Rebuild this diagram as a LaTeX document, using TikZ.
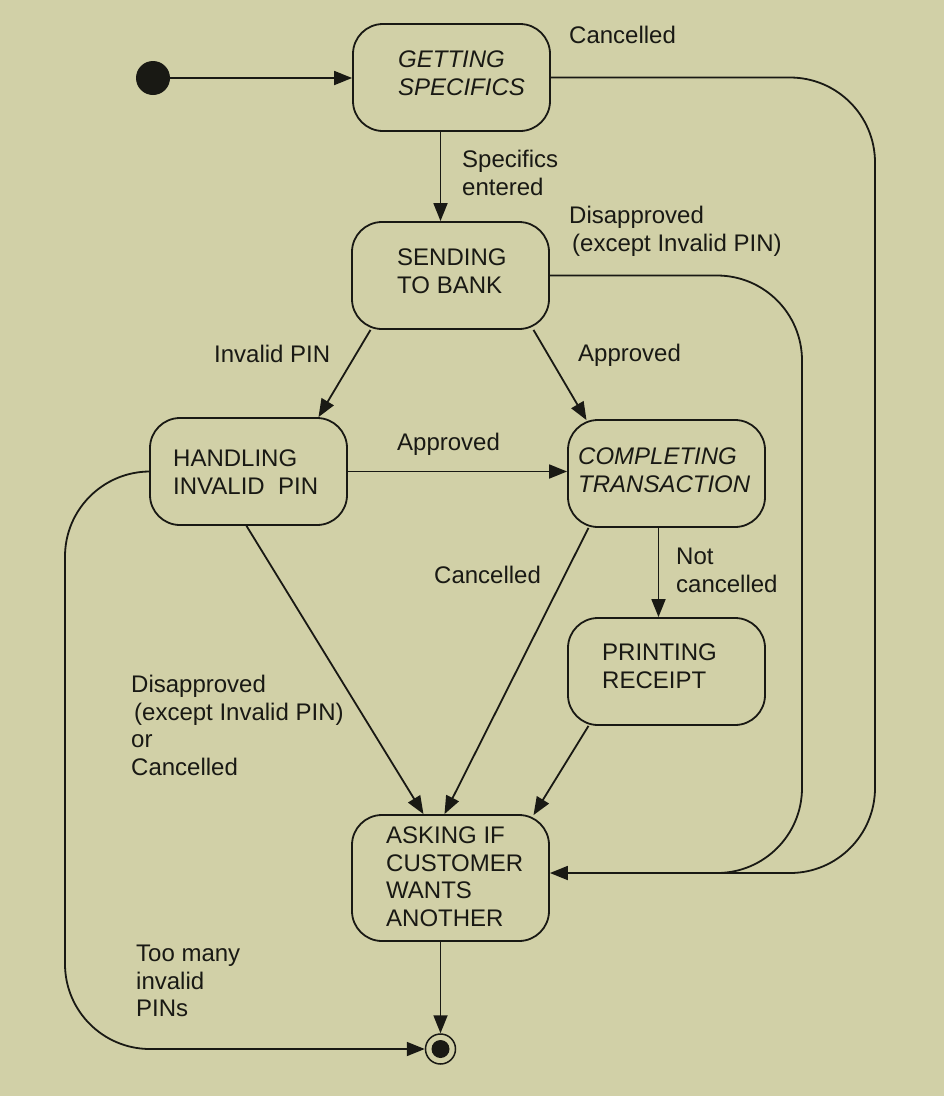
\documentclass[tikz,border=0pt]{standalone}
\usepackage{fontspec}
\setmainfont{Liberation Sans}
\usetikzlibrary{arrows.meta,calc}
\definecolor{bg}{RGB}{209,208,167}
\definecolor{ink}{RGB}{25,25,20}
\begin{document}
\begin{tikzpicture}[x=1pt,y=-1pt,
  state/.style={draw=ink, line width=1.8pt, rounded corners=30pt, minimum width=197pt, minimum height=107pt, inner sep=0pt},
  lbl/.style={anchor=north west, inner sep=0pt, align=left, font=\fontsize{24}{27.5}\selectfont, text=ink},
  conn/.style={draw=ink, line width=1.8pt},
  arr/.style={conn, -{Triangle[length=18pt,width=14pt]}},
  looparr/.style={arr, rounded corners=85pt},
  loopline/.style={conn, rounded corners=85pt}]
\fill[bg] (0,0) rectangle (944,1096);
\useasboundingbox (0,0) rectangle (944,1096);

% states
\node[state] (gs) at (451.5,77.5) {};
\node[state] (sb) at (450.5,275.5) {};
\node[state] (hp) at (248.5,471.5) {};
\node[state] (ct) at (666.5,473.5) {};
\node[state] (pr) at (666.5,671.5) {};
\node[state, minimum height=126pt] (ak) at (450.5,878) {};
\node[fill=ink, circle, minimum size=34pt, inner sep=0pt] (init) at (153,78) {};
\node[draw=ink, circle, line width=1.5pt, minimum size=30pt, inner sep=0pt,
      path picture={\fill[ink] (path picture bounding box.center) circle (9pt);}] (fin) at (440.5,1049) {};

% state texts
\node[lbl, font=\fontsize{24}{27.5}\selectfont\itshape] (gst) at (398,51) {GETTING\\SPECIFICS};
\node[lbl] (sbt) at (397,249) {SENDING\\TO BANK};
\node[lbl] (hpt) at (173,450) {HANDLING\\INVALID\ \ PIN};
\node[lbl, font=\fontsize{24}{27.5}\selectfont\itshape] (ctt) at (578,448) {COMPLETING\\TRANSACTION};
\node[lbl] (prt) at (602,644) {PRINTING\\RECEIPT};
\node[lbl] (akt) at (386,827) {ASKING IF\\CUSTOMER\\WANTS\\ANOTHER};

% waypoints
\coordinate (o1) at (875,77.5);
\coordinate (o2) at (875,873);
\coordinate (i1) at (802,275.5);
\coordinate (i2) at (802,873);
\coordinate (i3) at (700,873);
\coordinate (l1) at (65,471.5);
\coordinate (l2) at (65,1049);

% connectors
\draw[arr] (init.east) -- (gs.west |- init.east);
\draw[arr] ($(gs.south)+(-11,0)$) -- ($(sb.north)+(-10,0)$);
\draw[looparr] (gs.east) -- (o1) -- (o2) -- ($(ak.east)+(0,-5)$);
\draw[loopline] (sb.east) -- (i1) -- (i2) -- (i3);
\draw[arr] ($(sb.south)+(-80,0)$) -- ($(hp.north)+(70,0)$);
\draw[arr] ($(sb.south)+(83,0)$) -- ($(ct.north)+(-80,1)$);
\draw[arr] (hp.east) -- (hp.east -| ct.west);
\draw[arr] ($(hp.south)+(-2,0)$) -- ($(ak.north)+(-27,0)$);
\draw[arr] ($(ct.south)+(-78,0)$) -- ($(ak.north)+(-6,0)$);
\draw[arr] ($(ct.south)+(-8,0)$) -- ($(pr.north)+(-8,0)$);
\draw[arr] ($(pr.south)+(-78,0)$) -- ($(ak.north)+(83,1)$);
\draw[looparr] (hp.west) -- (l1) -- (l2) -- (fin.west);
\draw[arr] ($(ak.south)+(-10,0)$) -- (fin.north);

% transition labels
\node[lbl] (lc1) at (569,26) {Cancelled};
\node[lbl] (lse) at (462,150) {Specifics\\entered};
\node[lbl] (ld1) at (569,206) {Disapproved\\\hspace{3pt}(except Invalid PIN)};
\node[lbl] (lip) at (214,345) {Invalid PIN};
\node[lbl] (la1) at (578,344) {Approved};
\node[lbl] (la2) at (397,433) {Approved};
\node[lbl] (lc2) at (434,566) {Cancelled};
\node[lbl] (lnc) at (676,548) {Not\\cancelled};
\node[lbl] (ld2) at (131,675) {Disapproved\\\hspace{3pt}(except Invalid PIN)\\or\\Cancelled};
\node[lbl] (ltm) at (136,945) {Too many\\invalid\\PINs};
\end{tikzpicture}
\end{document}
